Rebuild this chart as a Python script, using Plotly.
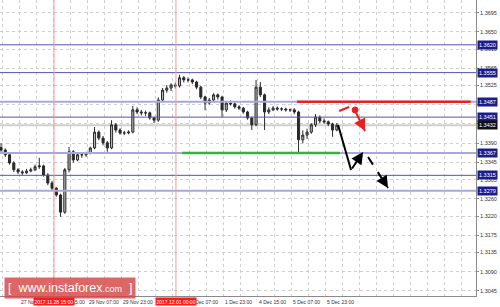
import plotly.graph_objects as go

# ---------------- data ----------------
# bar index in hours (2-hour bars)
bar_hours = list(range(0, 160, 2))
opens = [1.3380,1.3374,1.3363,1.3344,1.3328,1.3323,1.3321,1.3325,1.3328,1.3335,
         1.3337,1.3316,1.3297,1.3285,1.3269,1.3229,1.3328,1.3370,1.3351,1.3363,
         1.3363,1.3367,1.3379,1.3416,1.3402,1.3391,1.3379,1.3433,1.3421,1.3414,
         1.3414,1.3416,1.3468,1.3463,1.3461,1.3461,1.3449,1.3444,1.3491,1.3514,
         1.3519,1.3526,1.3524,1.3543,1.3538,1.3538,1.3533,1.3521,1.3498,1.3484,
         1.3491,1.3503,1.3498,1.3468,1.3484,1.3482,1.3475,1.3472,1.3463,1.3449,
         1.3433,1.3521,1.3503,1.3463,1.3468,1.3472,1.3470,1.3470,1.3468,1.3468,
         1.3463,1.3398,1.3409,1.3416,1.3433,1.3451,1.3442,1.3440,1.3435,1.3421]
highs = [1.3390,1.3378,1.3366,1.3348,1.3332,1.3327,1.3330,1.3333,1.3340,1.3356,
         1.3340,1.3320,1.3302,1.3288,1.3272,1.3332,1.3381,1.3374,1.3366,1.3368,
         1.3370,1.3382,1.3428,1.3420,1.3407,1.3395,1.3444,1.3437,1.3425,1.3419,
         1.3420,1.3477,1.3474,1.3468,1.3466,1.3464,1.3452,1.3497,1.3519,1.3526,
         1.3530,1.3532,1.3550,1.3547,1.3544,1.3541,1.3536,1.3524,1.3501,1.3496,
         1.3507,1.3506,1.3501,1.3488,1.3490,1.3485,1.3479,1.3475,1.3466,1.3452,
         1.3538,1.3533,1.3506,1.3474,1.3477,1.3476,1.3474,1.3473,1.3471,1.3472,
         1.3466,1.3420,1.3424,1.3437,1.3458,1.3455,1.3448,1.3443,1.3438,1.3437]
lows = [1.3370,1.3358,1.3340,1.3323,1.3318,1.3316,1.3318,1.3322,1.3325,1.3330,
        1.3312,1.3292,1.3280,1.3265,1.3218,1.3225,1.3322,1.3345,1.3348,1.3356,
        1.3358,1.3364,1.3376,1.3397,1.3385,1.3370,1.3376,1.3415,1.3410,1.3409,
        1.3411,1.3413,1.3458,1.3455,1.3454,1.3445,1.3437,1.3440,1.3486,1.3508,
        1.3512,1.3518,1.3520,1.3532,1.3532,1.3528,1.3516,1.3493,1.3467,1.3480,
        1.3488,1.3492,1.3451,1.3463,1.3478,1.3471,1.3468,1.3459,1.3445,1.3421,
        1.3430,1.3498,1.3421,1.3458,1.3465,1.3466,1.3465,1.3464,1.3463,1.3458,
        1.3369,1.3390,1.3400,1.3412,1.3428,1.3437,1.3436,1.3430,1.3405,1.3418]
closes = [1.3374,1.3363,1.3344,1.3328,1.3323,1.3321,1.3325,1.3328,1.3335,1.3337,
          1.3316,1.3297,1.3285,1.3269,1.3229,1.3328,1.3370,1.3351,1.3363,1.3363,
          1.3367,1.3379,1.3416,1.3402,1.3391,1.3379,1.3433,1.3421,1.3414,1.3414,
          1.3416,1.3468,1.3463,1.3461,1.3461,1.3449,1.3444,1.3491,1.3514,1.3519,
          1.3526,1.3524,1.3543,1.3538,1.3538,1.3533,1.3521,1.3498,1.3484,1.3491,
          1.3503,1.3498,1.3468,1.3484,1.3482,1.3475,1.3472,1.3463,1.3449,1.3433,
          1.3521,1.3503,1.3463,1.3468,1.3472,1.3470,1.3470,1.3468,1.3468,1.3463,
          1.3398,1.3409,1.3416,1.3433,1.3451,1.3442,1.3440,1.3435,1.3421,1.3432]

# price axis ticks
y_ticks = [1.3695,1.3650,1.3610,1.3565,1.3525,1.3480,1.3435,1.3390,1.3345,
           1.3305,1.3260,1.3220,1.3175,1.3135,1.3090,1.3045]
y_ticktext = ["1.3695","1.3650","1.3610","1.3565","1.3525","","","1.3390","1.3345",
              "1.3305","1.3260","1.3220","1.3175","1.3135","1.3090","1.3045"]

# time axis labels (hour index, text)
time_label_hours = [-7.5, 8.5, 24.5, 40.5, 56.5, 72.5, 88.5, 104.5, 120.5, 136.5, 152.5]
time_labels = ["27 Nov 07:00","27 Nov 23:00","28 Nov 15:00","29 Nov 07:00","29 Nov 23:00",
               "30 Nov 15:00","1 Dec 07:00","1 Dec 23:00","4 Dec 15:00","5 Dec 07:00","5 Dec 23:00"]
grid_hours = [0.5 + 8 * i for i in range(28)]

# marked dates (red vertical lines)
marker_hours = [24.9, 82.3]
marker_labels = ["2017.11.28 15:00", "2017.12.01 00:00"]

# horizontal levels
levels = [1.3620, 1.3555, 1.3487, 1.3451, 1.3367, 1.3315, 1.3279]
level_style = ["thin", "thin", "thick", "thin", "thick", "thin", "thick"]
current_price = 1.3432
resistance = 1.3487
resistance_span = [139.3, 221.0]
support = 1.3367
support_span = [85.2, 159.5]

# forecast arrows
black_path_x = [158.6, 164.7, 170.4]
black_path_y = [1.34326, 1.33275, 1.33696]
black_dash_arrow = [172.7, 1.33578, 182.1, 1.32854]
red_dash_seg = [159.1, 1.34654, 163.8, 1.34747]
red_dot = [166.6, 1.34677]
red_dash_arrow = [167.1, 1.34607, 171.3, 1.34186]

# ---------------- figure ----------------
fig = go.Figure()
fig.add_trace(go.Candlestick(
    x=bar_hours, open=opens, high=highs, low=lows, close=closes,
    increasing=dict(line=dict(color="#2a2a2a", width=1), fillcolor="#b8b8b8"),
    decreasing=dict(line=dict(color="#2a2a2a", width=1), fillcolor="#2a2a2a"),
    whiskerwidth=0, showlegend=False, hoverinfo="skip"))

shapes = []
# current price line
shapes.append(dict(type="line", xref="paper", x0=0, x1=1, yref="y", y0=current_price, y1=current_price,
                   line=dict(color="#d0d0d0", width=2), layer="below"))
for lv, st in zip(levels, level_style):
    if st == "thick":
        ln = dict(color="#a8a8dc", width=2)
    else:
        ln = dict(color="#5454b4", width=1)
    shapes.append(dict(type="line", xref="paper", x0=0, x1=1, yref="y", y0=lv, y1=lv, line=ln, layer="above"))
for mh in marker_hours:
    shapes.append(dict(type="line", xref="x", x0=mh, x1=mh, yref="paper", y0=0, y1=1,
                       line=dict(color="#f39a9a", width=1), layer="above"))
shapes.append(dict(type="line", xref="x", x0=resistance_span[0], x1=resistance_span[1], yref="y",
                   y0=resistance, y1=resistance, line=dict(color="#e82020", width=2.5), layer="above"))
shapes.append(dict(type="line", xref="x", x0=support_span[0], x1=support_span[1], yref="y",
                   y0=support, y1=support, line=dict(color="#3cb043", width=2.5), layer="above"))
# black solid path first leg
shapes.append(dict(type="line", xref="x", yref="y", x0=black_path_x[0], y0=black_path_y[0],
                   x1=black_path_x[1], y1=black_path_y[1], line=dict(color="black", width=2)))
# black dashed arrow shaft
shapes.append(dict(type="line", xref="x", yref="y", x0=black_dash_arrow[0], y0=black_dash_arrow[1],
                   x1=black_dash_arrow[2], y1=black_dash_arrow[3],
                   line=dict(color="black", width=2, dash="dash")))
# red dashed arrow shaft
shapes.append(dict(type="line", xref="x", yref="y", x0=red_dash_arrow[0], y0=red_dash_arrow[1],
                   x1=red_dash_arrow[2], y1=red_dash_arrow[3],
                   line=dict(color="#e82020", width=2, dash="dash")))
# red small segment
shapes.append(dict(type="line", xref="x", yref="y", x0=red_dash_seg[0], y0=red_dash_seg[1],
                   x1=red_dash_seg[2], y1=red_dash_seg[3], line=dict(color="#e82020", width=2)))
# red dot
shapes.append(dict(type="circle", xref="x", yref="y", xsizemode="pixel", ysizemode="pixel",
                   xanchor=red_dot[0], yanchor=red_dot[1], x0=-3, x1=3, y0=-3, y1=3,
                   fillcolor="#e82020", line=dict(color="#e82020", width=1)))

annotations = []
# arrows (heads)
annotations.append(dict(x=black_path_x[2], y=black_path_y[2], ax=black_path_x[1], ay=black_path_y[1],
                        xref="x", yref="y", axref="x", ayref="y", text="", showarrow=True,
                        arrowhead=2, arrowsize=1.2, arrowwidth=2, arrowcolor="black"))
annotations.append(dict(x=black_dash_arrow[2], y=black_dash_arrow[3], ax=-5, ay=-8,
                        xref="x", yref="y", text="", showarrow=True,
                        arrowhead=2, arrowsize=1.2, arrowwidth=2, arrowcolor="black"))
annotations.append(dict(x=red_dash_arrow[2], y=red_dash_arrow[3], ax=-3.5, ay=-7,
                        xref="x", yref="y", text="", showarrow=True,
                        arrowhead=2, arrowsize=1.2, arrowwidth=2, arrowcolor="#e82020"))
# level boxes
for lv in levels:
    annotations.append(dict(xref="paper", yref="y", x=1, y=lv, xanchor="left", yanchor="middle",
                            xshift=1, text="%.4f" % lv, showarrow=False,
                            font=dict(size=5.5, color="white", family="Liberation Sans"),
                            bgcolor="#1c1c8c", borderpad=1))
annotations.append(dict(xref="paper", yref="y", x=1, y=current_price, xanchor="left", yanchor="middle",
                        xshift=1, text="%.4f" % current_price, showarrow=False,
                        font=dict(size=5.5, color="white", family="Liberation Sans"),
                        bgcolor="#111111", borderpad=1))
# time labels
for th, tl in zip(time_label_hours, time_labels):
    annotations.append(dict(xref="x", yref="paper", x=th, y=0, xanchor="left", yanchor="top",
                            yshift=-1, text=tl, showarrow=False,
                            font=dict(size=5, color="#333333", family="Liberation Sans")))
# watermark
annotations.append(dict(xref="paper", yref="paper", x=70 / 476, y=(296 - 288) / 296,
                        xanchor="center", yanchor="middle", showarrow=False,
                        text="[  www.instaforex<span style='font-size:9px'>.com</span>  ]",
                        font=dict(size=12.5, color="white", family="Liberation Sans"),
                        bgcolor="rgba(214,70,70,0.82)", borderpad=3))
# marker date labels
for mh, ml in zip(marker_hours, marker_labels):
    annotations.append(dict(xref="x", yref="paper", x=mh, y=0, xanchor="center", yanchor="top",
                            yshift=-1, text=ml, showarrow=False,
                            font=dict(size=5, color="white", family="Liberation Sans"),
                            bgcolor="#ff1a1a", borderpad=0.5))

fig.update_layout(
    width=500, height=307,
    margin=dict(l=0, r=24, t=0, b=11, pad=0),
    paper_bgcolor="white", plot_bgcolor="white",
    shapes=shapes, annotations=annotations, showlegend=False,
    xaxis=dict(range=[-0.5, 223.5], rangeslider=dict(visible=False), tickvals=grid_hours,
               showticklabels=False, showgrid=True, gridcolor="#cfcfcf", griddash="dot",
               gridwidth=1, zeroline=False, showline=True, linecolor="#8a8a8a", linewidth=1,
               ticks=""),
    yaxis=dict(range=[1.303308, 1.372467], side="right", tickvals=y_ticks, ticktext=y_ticktext,
               showgrid=True, gridcolor="#cfcfcf", griddash="dot", gridwidth=1, zeroline=False,
               showline=True, linecolor="#8a8a8a", linewidth=1, ticks="outside", ticklen=2,
               tickcolor="#8a8a8a",
               tickfont=dict(size=5.5, color="#333333", family="Liberation Sans")),
)

fig.write_html("out.html")
